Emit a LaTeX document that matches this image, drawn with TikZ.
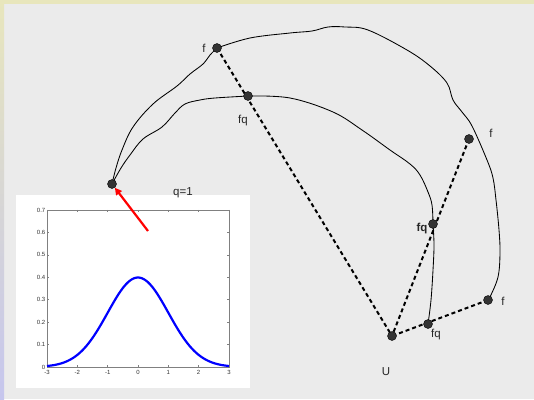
\documentclass[tikz,border=0pt]{standalone}
\usepackage{fontspec}
\setmainfont{Liberation Sans}
\usetikzlibrary{arrows.meta,backgrounds}
\definecolor{bggray}{HTML}{EBEBEB}
\definecolor{topyel}{HTML}{E8E6BC}
\definecolor{lav}{HTML}{C6C6EE}
\definecolor{dotc}{HTML}{333333}
\definecolor{axc}{HTML}{808080}
\tikzset{
  dot/.style={circle,fill=dotc,draw=black,line width=0.4pt,inner sep=0pt,minimum size=9pt},
  lbl/.style={font=\fontsize{11.5}{13}\selectfont,text=black!85,inner sep=0pt},
  curve/.style={black,line width=0.85pt},
  dline/.style={black,line width=2pt,dash pattern=on 4pt off 3pt},
  tick/.style={axc,line width=0.5pt},
  ticklbl/.style={font=\fontsize{6}{7}\selectfont,inner sep=0pt,text=black!80}
}
\begin{document}
\begin{tikzpicture}[x=1pt,y=-1pt]
\useasboundingbox (0,0) rectangle (534,399);
% background
\begin{pgfonlayer}{background}
\fill[bggray] (0,0) rectangle (534,399);
\fill[topyel] (0,0) rectangle (534,4);
\shade[top color=topyel,bottom color=lav] (0,0) rectangle (4,399);
\end{pgfonlayer}
% plot panel
\fill[white] (16,195) rectangle (250,388);
\begin{scope}[shift={(138,367)},x={(30.33pt,0pt)},y={(0pt,224.3pt)}]
  \draw[axc,line width=0.6pt] (-3,0) rectangle (3,0.7);
  \foreach \t in {-3,...,3} {
    \draw[tick] (\t,0) -- ++(0,2pt);
    \draw[tick] (\t,0.7) -- ++(0,-2pt);
    \node[ticklbl,anchor=north] at ([yshift=-3pt]\t,0) {\t};
  }
  \foreach \v/\s in {0/0,0.1/0.1,0.2/0.2,0.3/0.3,0.4/0.4,0.5/0.5,0.6/0.6,0.7/0.7} {
    \draw[tick] (-3,\v) -- ++(2pt,0);
    \draw[tick] (3,\v) -- ++(-2pt,0);
    \node[ticklbl,anchor=east] at ([xshift=-1.5pt]-3,\v) {\s};
  }
  \draw[blue,line width=2.2pt,line join=round] plot[domain=-3:3,samples=80,smooth] (\x,{exp(-(\x)*(\x)/2)/sqrt(2*pi)});
\end{scope}
% points
\node[dot] (pL)  at (112,184) {};
\node[dot] (fA)  at (217,48) {};
\node[dot] (fqA) at (248,96) {};
\node[dot] (fB)  at (469,139) {};
\node[dot] (fqB) at (433,224) {};
\node[dot] (fC)  at (488,300) {};
\node[dot] (fqC) at (428,324) {};
\node[dot] (U)   at (392,336) {};
% labels
\node[lbl] (lfA) at (204,48) {f};
\node[lbl] (lfqA) at (243,121) {fq};
\node[lbl] (lfB) at (491,133) {f};
\node[lbl,font=\fontsize{11.5}{13}\selectfont\bfseries] (lfqB) at (422,229) {fq};
\node[lbl] (lfC) at (503,301) {f};
\node[lbl] (lfqC) at (436,335) {fq};
\node[lbl] (lU) at (386,372) {U};
\node[lbl] (lq) at (183,193) {q=1};
% curves and dashed lines
\begin{pgfonlayer}{background}
\draw[curve] plot[smooth,tension=0.6] coordinates {(pL.center) (116,168) (122,150) (133,127) (153,104) (177,86) (190,74) (203,64) (210,55) (fA.center)};
\draw[curve] plot[smooth,tension=0.6] coordinates {(fA.center) (250,38) (290,33) (312,31) (328,27) (345,27) (368,30) (407,50) (430,66) (447,83) (453,100) (462,112) (472,126) (487,160) (493,178) (496,200) (499,230) (500,253) (498,277) (490,297) (fC.center)};
\draw[curve] plot[smooth,tension=0.6] coordinates {(pL.center) (121,168) (130,155) (143,139) (162,127) (175,113) (185,104) (200,100) (215,98) (fqA.center)};
\draw[curve] plot[smooth,tension=0.6] coordinates {(fqA.center) (290,98) (333,112) (362,130) (390,150) (410,164) (420,175) (428,192) (432,205) (fqB.center)};
\draw[curve] plot[smooth,tension=0.6] coordinates {(fqB.center) (434,245) (433,270) (431,300) (fqC.center)};
\draw[dline] (fA.center) -- (U.center);
\draw[dline] (fB.center) -- (U.center);
\draw[dline] (fC.center) -- (U.center);
\end{pgfonlayer}
% red arrow
\coordinate (aS) at (148,231);
\draw[red,line width=2.2pt,-{Triangle[length=7pt,width=7pt]}] (aS) -- (pL);
\end{tikzpicture}
\end{document}
